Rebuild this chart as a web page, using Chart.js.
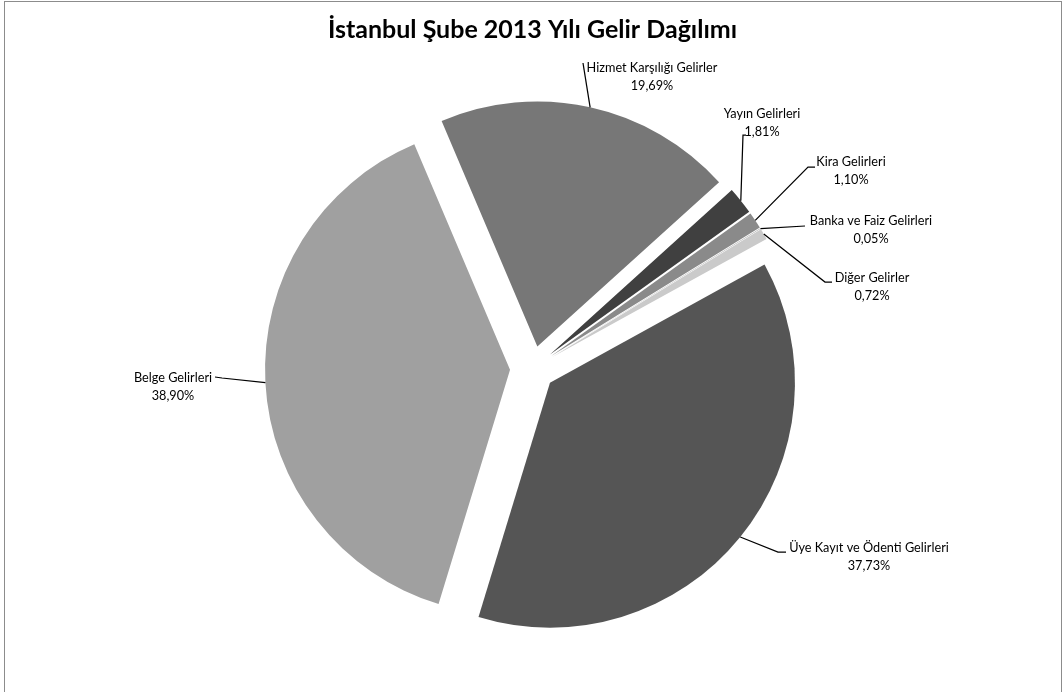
<!DOCTYPE html>
<html>
<head>
<meta charset="utf-8">
<script src="https://cdn.jsdelivr.net/npm/chart.js@4.4.0/dist/chart.umd.min.js"></script>
<style>
  body { margin: 0; background: #fff; overflow: hidden; }
  #wrap { position: relative; width: 1062px; height: 692px; overflow: hidden; }
  #frame { position: absolute; left: 4px; top: 1px; width: 1056px; height: 700px; border: 1px solid #8c8c8c; pointer-events: none; }
</style>
</head>
<body>
<div id="wrap">
  <canvas id="gelirChart" width="1062" height="692"></canvas>
  <div id="frame"></div>
</div>
<script>
// Gelir kalemleri (saat yönünde, Hizmet dilimi ile başlar)
const categories = [
    'Hizmet Karşılığı Gelirler',
    'Yayın Gelirleri',
    'Kira Gelirleri',
    'Banka ve Faiz Gelirleri',
    'Diğer Gelirler',
    'Üye Kayıt ve Ödenti Gelirleri',
    'Belge Gelirleri'
];
const shares = [19.69, 1.81, 1.10, 0.05, 0.72, 37.73, 38.90];
const shareLabels = shares.map(v => v.toFixed(2).replace('.', ',') + '%');
const sliceColors = ['#777777', '#404040', '#8a8a8a', '#b0b0b0', '#cacaca', '#555555', '#a0a0a0'];

// label placement (text centre of first line + leader line bend points)
const labelLayout = [
    { x: 652, y: 68, leader: [[583, 63]] },
    { x: 762, y: 114, leader: [[743, 135], [746, 135]] },
    { x: 851, y: 162, leader: [[808, 167], [815, 167]] },
    { x: 871, y: 221, leader: [[805, 226]] },
    { x: 872, y: 278, leader: [[825, 282], [832, 282]] },
    { x: 869, y: 548, leader: [[778, 552], [786, 552]] },
    { x: 173, y: 378, leader: [[222, 378], [215, 377]] }
];

const explode = 22.5;
const labelFont = '12.7px Lato';

// draw every slice pulled out from the centre
const explodePlugin = {
    id: 'explode',
    beforeDatasetDraw(chart, args) {
        const ctx = chart.ctx;
        args.meta.data.forEach(arc => {
            const mid = (arc.startAngle + arc.endAngle) / 2;
            ctx.save();
            ctx.translate(Math.cos(mid) * explode, Math.sin(mid) * explode);
            arc.draw(ctx, chart.chartArea);
            ctx.restore();
        });
        return false;
    }
};

// category name + percentage with leader lines
const labelPlugin = {
    id: 'sliceLabels',
    afterDatasetsDraw(chart) {
        const ctx = chart.ctx;
        const meta = chart.getDatasetMeta(0);
        ctx.save();
        ctx.strokeStyle = '#000';
        ctx.lineWidth = 1.25;
        ctx.fillStyle = '#000';
        ctx.font = labelFont;
        ctx.textAlign = 'center';
        ctx.textBaseline = 'middle';
        meta.data.forEach((arc, i) => {
            const p = arc.getProps(['x', 'y', 'startAngle', 'endAngle', 'outerRadius'], true);
            const mid = (p.startAngle + p.endAngle) / 2;
            const r = p.outerRadius + explode;
            const lay = labelLayout[i];
            ctx.beginPath();
            ctx.moveTo(p.x + Math.cos(mid) * r, p.y + Math.sin(mid) * r);
            lay.leader.forEach(pt => ctx.lineTo(pt[0], pt[1]));
            ctx.stroke();
            ctx.fillText(categories[i], lay.x, lay.y);
            ctx.fillText(shareLabels[i], lay.x, lay.y + 17.5);
        });
        ctx.restore();
    }
};

new Chart(document.getElementById('gelirChart'), {
    type: 'pie',
    data: {
        labels: categories,
        datasets: [{
            data: shares,
            backgroundColor: sliceColors,
            borderWidth: 0
        }]
    },
    options: {
        responsive: false,
        animation: false,
        rotation: -23,
        radius: 245,
        layout: { padding: { left: 3, right: 0, top: 0, bottom: 0 } },
        plugins: {
            legend: { display: false },
            tooltip: { enabled: false },
            title: {
                display: true,
                text: 'İstanbul Şube 2013 Yılı Gelir Dağılımı',
                color: '#000',
                font: { family: 'Lato', size: 25, weight: 'bold' },
                padding: { top: 15, bottom: 0 }
            }
        }
    },
    plugins: [explodePlugin, labelPlugin]
});
</script>
</body>
</html>
